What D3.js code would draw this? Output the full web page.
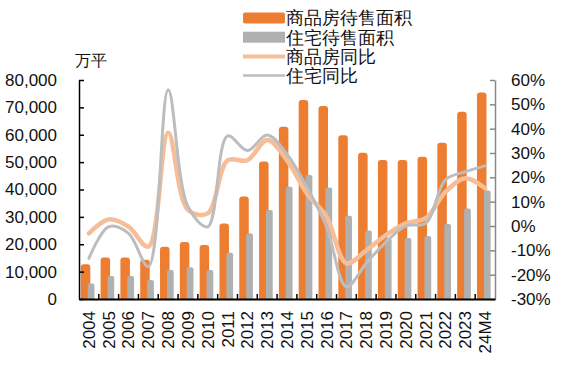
<!DOCTYPE html>
<html><head><meta charset="utf-8">
<script src="https://cdn.jsdelivr.net/npm/d3@7/dist/d3.min.js"></script>
<style>body{margin:0;background:#fff}svg{display:block}text{font-family:"Liberation Sans",Arial,sans-serif}</style>
</head><body><svg id="c" width="561" height="382"></svg>
<script>
const categories = ["2004","2005","2006","2007","2008","2009","2010","2011","2012","2013","2014","2015","2016","2017","2018","2019","2020","2021","2022","2023","24M4"];
const spUnsold = [12700,15200,15200,14300,19100,20800,19700,27600,37400,50200,62900,72700,70500,59800,53400,50800,50800,52000,57100,68400,75400];
const resUnsold = [5700,8400,8400,6900,10600,11600,10600,16900,24000,32500,41000,45300,40700,30400,25000,22200,22300,23000,27400,33100,39600];
const spYoY = [-3,2.7,-0.3,-8.5,38.3,6.6,5.2,27,27,35.3,27,13.4,3.8,-15.3,-10,-3.7,1.1,3.2,14,19.6,15.5];
const resYoY = [-13.3,-0.3,-3,-16.7,56,8,-0.3,37,31,37.4,29.5,16,-0.3,-25,-15.3,-6.5,0.1,1.1,19,22.3,24.7];
const leftTicks = [0,10000,20000,30000,40000,50000,60000,70000,80000];
const rightTicks = [-30,-20,-10,0,10,20,30,40,50,60];
const legendItems = [
  {name:"商品房待售面积", type:"bar", color:"#ED7D31"},
  {name:"住宅待售面积", type:"bar", color:"#B0B0B0"},
  {name:"商品房同比", type:"line", color:"#F6BE98", w:4},
  {name:"住宅同比", type:"line", color:"#BDBDBD", w:2.5}
];

const svg = d3.select("#c");
const L = 79, R = 495, T = 80, B = 299;
const x = d3.scaleBand().domain(categories).range([L, R]);
const yL = d3.scaleLinear().domain([0, 80000]).range([B, T]);
const yR = d3.scaleLinear().domain([-30, 60]).range([B, T]);
const bw = x.bandwidth();

function topRounded(x0, y0, w, h, r) {
  r = Math.min(r, h, w/2);
  return `M${x0},${y0+h}V${y0+r}Q${x0},${y0} ${x0+r},${y0}H${x0+w-r}Q${x0+w},${y0} ${x0+w},${y0+r}V${y0+h}Z`;
}

// orange bars
svg.append("g").selectAll("path").data(categories).join("path")
  .attr("d", (c,i) => { const x0 = x(c) + bw*0.09, w = bw*0.48; return topRounded(x0, yL(spUnsold[i]), w, B - yL(spUnsold[i]), 3); })
  .attr("fill", "#ED7D31");
// grey bars
svg.append("g").selectAll("path").data(categories).join("path")
  .attr("d", (c,i) => { const x0 = x(c) + bw*0.44, w = bw*0.34; return topRounded(x0, yL(resUnsold[i]), w, B - yL(resUnsold[i]), 2); })
  .attr("fill", "#B0B0B0");

// lines
const line = (arr) => d3.line().x((d,i) => x(categories[i]) + bw/2).y(d => yR(d)).curve(d3.curveCatmullRom.alpha(0.5))(arr);
svg.append("path").attr("d", line(spYoY)).attr("fill","none").attr("stroke","#F6BE98").attr("stroke-width",4.5).attr("stroke-linecap","round");
svg.append("path").attr("d", line(resYoY)).attr("fill","none").attr("stroke","#BDBDBD").attr("stroke-width",3).attr("stroke-linecap","round");

// left axis
const gL = svg.append("g").attr("transform", `translate(${L},0)`)
  .call(d3.axisLeft(yL).tickValues(leftTicks).tickSizeInner(-5).tickSizeOuter(0).tickPadding(22).tickFormat(d3.format(",")));
gL.select(".domain").attr("stroke","#000").attr("stroke-width",1.5);
gL.selectAll(".tick line").attr("stroke","#000").attr("stroke-width",1.5);
gL.selectAll(".tick text").attr("font-size",17).attr("fill","#111").attr("font-family","Liberation Sans, Arial, sans-serif");

// right axis
const gR = svg.append("g").attr("transform", `translate(${R},0)`)
  .call(d3.axisRight(yR).tickValues(rightTicks).tickSizeInner(-5).tickSizeOuter(0).tickPadding(16).tickFormat(d => d + "%"));
gR.select(".domain").attr("stroke","#888").attr("stroke-width",1.5);
gR.selectAll(".tick line").attr("stroke","#888").attr("stroke-width",1.5);
gR.selectAll(".tick text").attr("font-size",17).attr("fill","#111").attr("font-family","Liberation Sans, Arial, sans-serif");

// bottom axis
const gB = svg.append("g").attr("transform", `translate(0,${B})`)
  .call(d3.axisBottom(x).tickSize(0).tickPadding(0));
gB.select(".domain").attr("stroke","#000").attr("stroke-width",2);
gB.selectAll(".tick text")
  .attr("font-size",17).attr("fill","#111").attr("font-family","Liberation Sans, Arial, sans-serif")
  .attr("transform","translate(0,12) rotate(-90)")
  .attr("text-anchor","end").attr("dy","0.35em").attr("y",0).attr("x",0);
// category boundary ticks
svg.append("g").selectAll("line").data(categories.slice(1)).join("line")
  .attr("x1", c => x(c)).attr("x2", c => x(c)).attr("y1", B).attr("y2", B-5)
  .attr("stroke","#000").attr("stroke-width",1.5);

// unit label
svg.append("text").attr("x",75).attr("y",66).attr("font-size",16).attr("fill","#111")
  .attr("font-family","Noto Sans CJK SC, sans-serif").text("万平");

// legend
const lg = svg.append("g");
legendItems.forEach((it, i) => {
  const cy = 18 + i*19.2;
  if (it.type === "bar") {
    lg.append("rect").attr("x",243).attr("y",cy-5.5).attr("width",42).attr("height",11).attr("fill",it.color).attr("rx", i===0?2:0);
  } else {
    lg.append("line").attr("x1",243).attr("x2",285).attr("y1",cy).attr("y2",cy).attr("stroke",it.color).attr("stroke-width",it.w);
  }
  lg.append("text").attr("x",286).attr("y",cy).attr("dy","0.36em").attr("font-size",18).attr("fill","#111")
    .attr("font-family","Noto Sans CJK SC, sans-serif").text(it.name);
});
</script></body></html>
